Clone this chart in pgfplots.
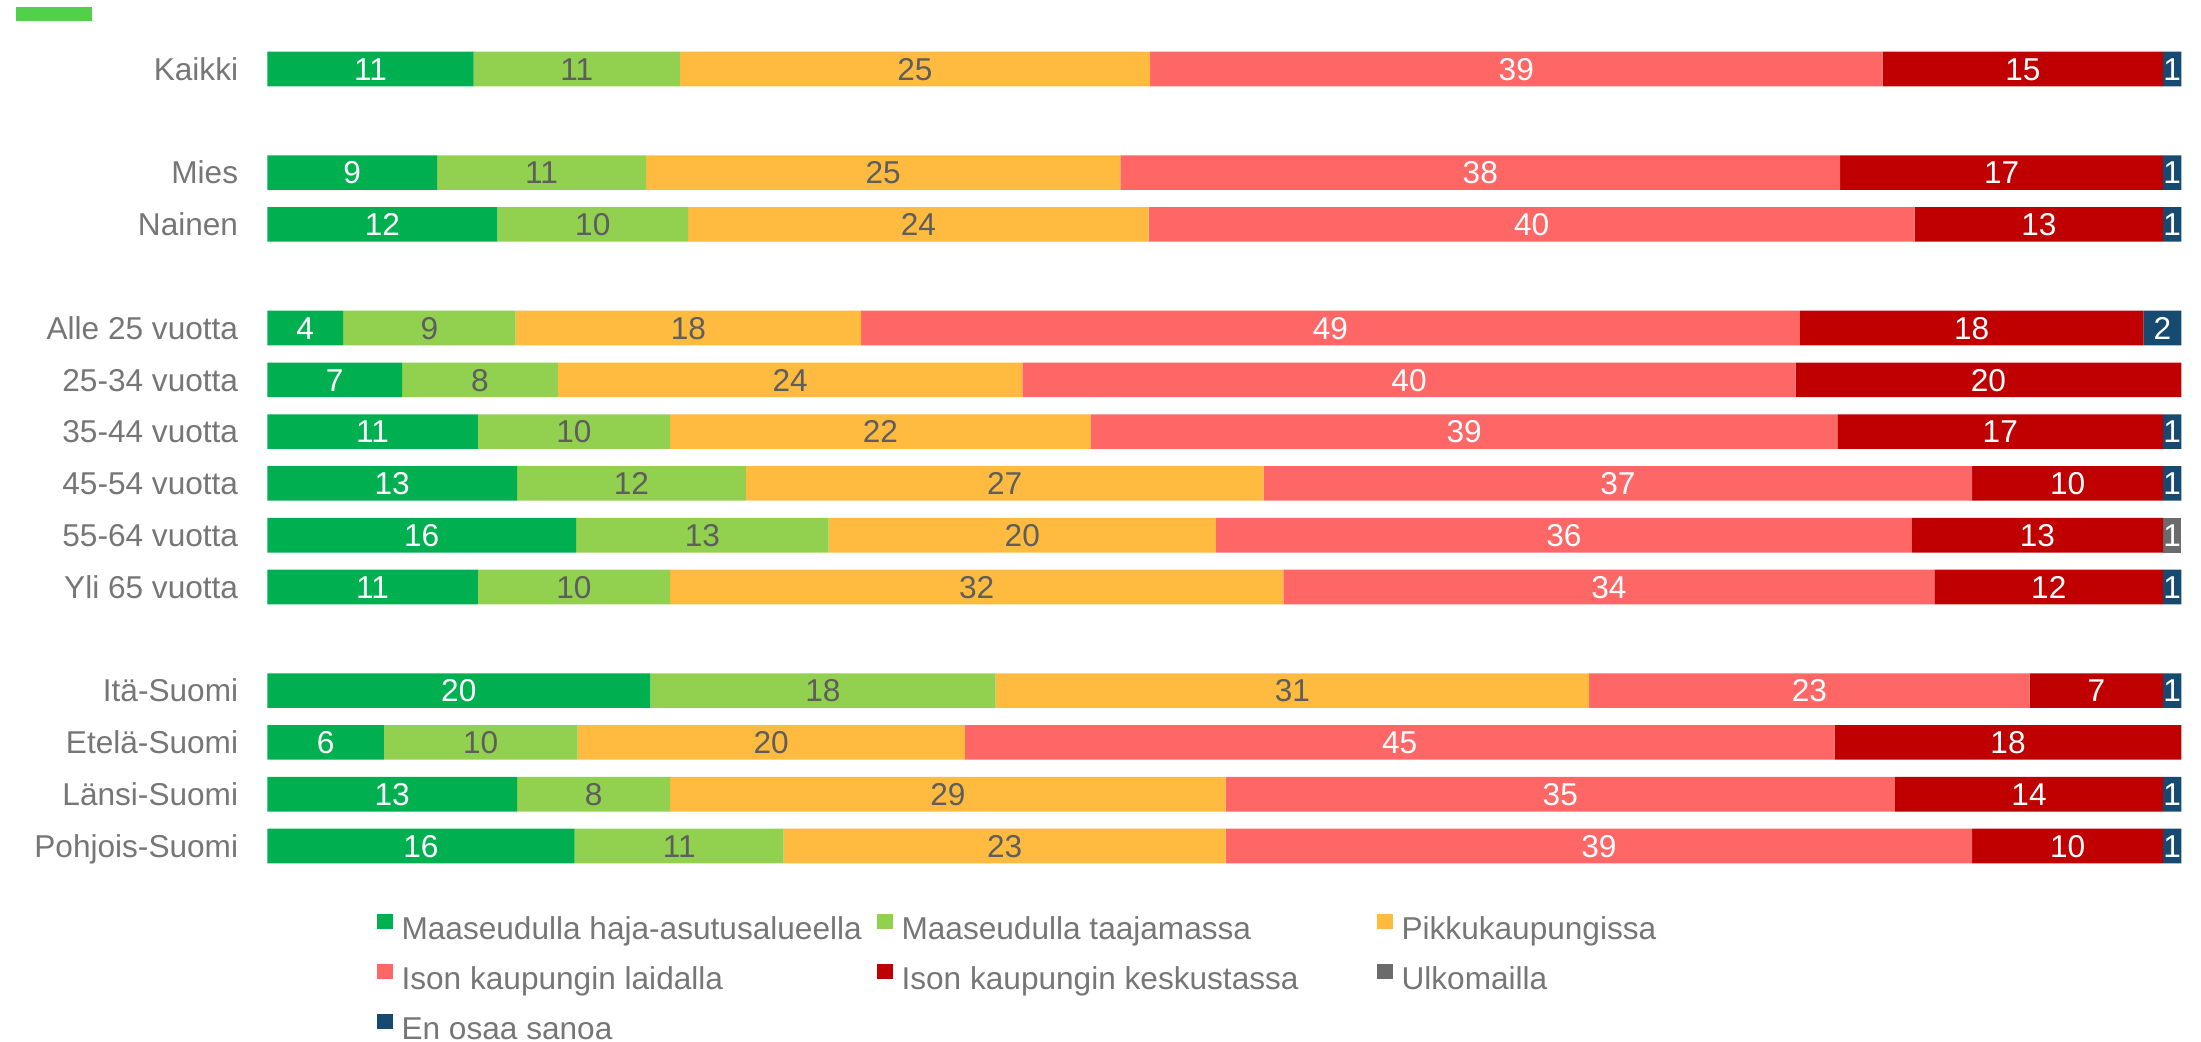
\documentclass[border=0pt]{standalone}
\usepackage{pgfplots}
\pgfplotsset{compat=1.18}
\usepackage{pgfplotstable}
\usepackage{fontspec}
\setmainfont{Liberation Sans}
\definecolor{cA}{HTML}{00B050}
\definecolor{cB}{HTML}{92D050}
\definecolor{cC}{HTML}{FFBB3F}
\definecolor{cD}{HTML}{FF6666}
\definecolor{cE}{HTML}{C00000}
\definecolor{cF}{HTML}{6B6B6B}
\definecolor{cG}{HTML}{174A70}
\definecolor{tickc}{HTML}{767676}
\definecolor{dlab}{HTML}{5E5E5E}
\definecolor{topg}{HTML}{51D04A}
\newcommand\ff{\fontsize{15.8pt}{18pt}\selectfont}

\pgfplotstableread{
y  a     la  b     lb  c     lc  d     ld  e     le  f     lf  g     lg
0  10.78 11  10.78 11  24.56 25  38.27 39  14.66 15  0     {}  0.95  1
2  8.87  9   10.92 11  24.78 25  37.61 38  16.86 17  0     {}  0.96  1
3  12.02 12  9.97  10  24.05 24  40.03 40  12.98 13  0     {}  0.95  1
5  3.96  4   9.02  9   18.04 18  49.05 49  17.95 18  0     {}  1.98  2
6  7.04  7   8.14  8   24.27 24  40.40 40  20.15 20  0     {}  0     {}
7  11.00 11  10.04 10  21.99 22  39.00 39  17.02 17  0     {}  0.95  1
8  13.05 13  11.95 12  27.05 27  37.02 37  9.98  10  0     {}  0.95  1
9  16.13 16  13.20 13  20.23 20  36.36 36  13.13 13  0.95  1   0     {}
10 11.00 11  10.04 10  32.04 32  34.02 34  11.95 12  0     {}  0.95  1
12 20.01 20  18.04 18  31.01 31  23.02 23  6.97  7   0     {}  0.95  1
13 6.09  6   10.12 10  20.23 20  45.45 45  18.11 18  0     {}  0     {}
14 13.05 13  7.99  8   29.03 29  34.97 35  14.01 14  0     {}  0.95  1
15 16.06 16  10.92 11  23.09 23  39.00 39  9.98  10  0     {}  0.95  1
}\data

\pgfplotsset{
  seg/.style 2 args={fill=#1, draw=none,
    every node near coord/.append style={text=#2}},
}

\begin{document}
\begin{tikzpicture}
\path[use as bounding box] (0,0) rectangle (1100.5pt,-521pt);
\fill[topg] (8pt,-3.65pt) rectangle (45.8pt,-10.35pt);
\begin{axis}[
  at={(133.65pt,-21.55pt)}, anchor=north west,
  scale only axis, width=957pt, height=414.4pt,
  xbar stacked, bar width=17.3pt,
  xmin=0, xmax=100, ymin=-0.5, ymax=15.5, y dir=reverse,
  enlarge x limits=false, enlarge y limits=false,
  axis line style={draw=none}, major tick length=0pt,
  xtick=\empty,
  ytick={0,2,3,5,6,7,8,9,10,12,13,14,15},
  yticklabels={Kaikki,Mies,Nainen,Alle 25 vuotta,25-34 vuotta,35-44 vuotta,45-54 vuotta,55-64 vuotta,Yli 65 vuotta,Itä-Suomi,Etelä-Suomi,Länsi-Suomi,Pohjois-Suomi},
  yticklabel style={font=\ff, text=tickc, inner sep=0pt, anchor=east, xshift=-14.4pt, text height=11.3pt, text depth=0pt},
  point meta=explicit symbolic,
  nodes near coords,
  every node near coord/.append style={anchor=center, font=\ff, inner sep=0pt, text height=11.3pt, text depth=0pt},
  legend columns=3,
  legend cell align=left,
  legend style={at={(axis description cs:0.0571,-0.0509)}, anchor=north west, draw=none, fill=none, inner sep=0pt, outer sep=0pt, font=\ff, text=tickc, row sep=9.1pt, column sep=0pt, nodes={inner sep=0pt, text height=11.3pt, text depth=3.2pt}},
  /tikz/every odd column/.append style={column sep=4.5pt},
  legend image code/.code={\draw[#1,draw=none] (0pt,1.2pt) rectangle (8pt,8.7pt);},
]
\addplot[seg={cA}{white}] table[x=a, y=y, meta=la] {\data};
\addlegendentry{\makebox[237.5pt][l]{Maaseudulla haja-asutusalueella}}
\addplot[seg={cB}{dlab}] table[x=b, y=y, meta=lb] {\data};
\addlegendentry{\makebox[237.5pt][l]{Maaseudulla taajamassa}}
\addplot[seg={cC}{dlab}] table[x=c, y=y, meta=lc] {\data};
\addlegendentry{\makebox[237.5pt][l]{Pikkukaupungissa}}
\addplot[seg={cD}{white}] table[x=d, y=y, meta=ld] {\data};
\addlegendentry{\makebox[237.5pt][l]{Ison kaupungin laidalla}}
\addplot[seg={cE}{white}] table[x=e, y=y, meta=le] {\data};
\addlegendentry{\makebox[237.5pt][l]{Ison kaupungin keskustassa}}
\addplot[seg={cF}{white}] table[x=f, y=y, meta=lf] {\data};
\addlegendentry{\makebox[237.5pt][l]{Ulkomailla}}
\addplot[seg={cG}{white}] table[x=g, y=y, meta=lg] {\data};
\addlegendentry{\makebox[237.5pt][l]{En osaa sanoa}}
\end{axis}
\end{tikzpicture}
\end{document}
